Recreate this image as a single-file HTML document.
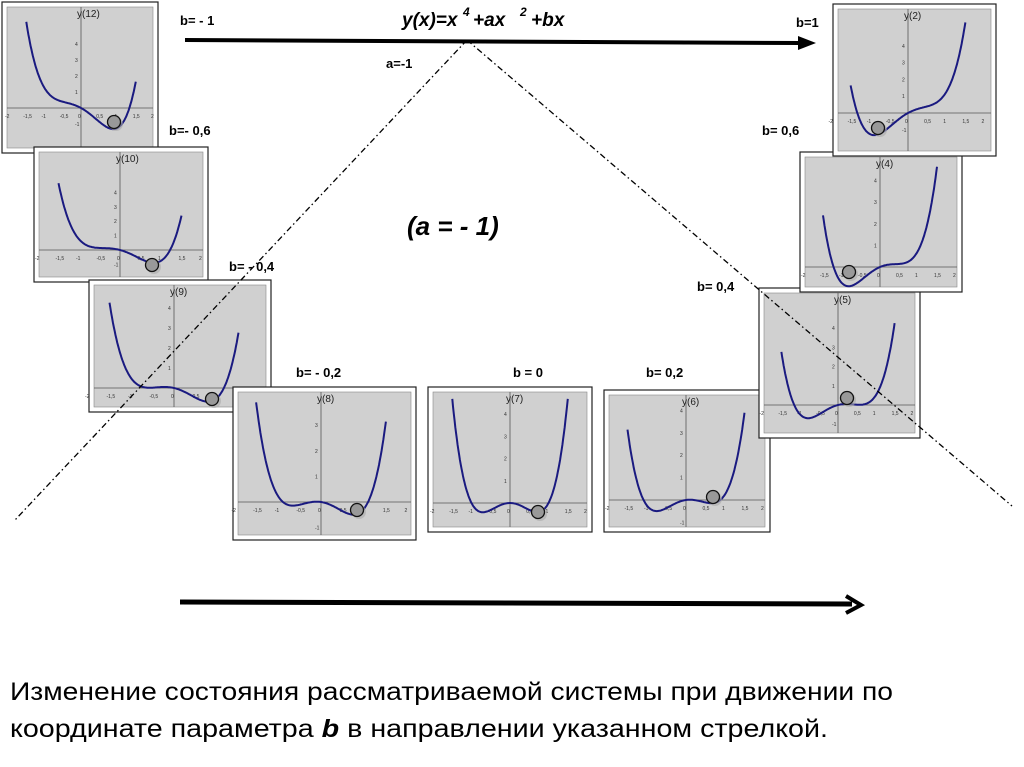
<!DOCTYPE html>
<html><head><meta charset="utf-8">
<style>
html,body{margin:0;padding:0;background:#fff;}
svg{display:block;}
text{font-family:"Liberation Sans",Arial,sans-serif;}
</style></head>
<body>
<svg id="s" width="1024" height="767" viewBox="0 0 1024 767" xmlns="http://www.w3.org/2000/svg">
<rect width="1024" height="767" fill="#fff"/>
<g id="panels"></g>
<line x1="467" y1="40" x2="15" y2="520" stroke="#000" stroke-width="1.3" stroke-dasharray="6,3,1.5,3"/>
<line x1="467" y1="40" x2="1012" y2="506" stroke="#000" stroke-width="1.3" stroke-dasharray="6,3,1.5,3"/>
<line x1="185" y1="40" x2="800" y2="43" stroke="#000" stroke-width="4"/>
<polygon points="798,36 816,43 798,50" fill="#000"/>
<line x1="180" y1="602" x2="852" y2="604" stroke="#000" stroke-width="5"/>
<polyline points="846,596 861,605 846,613" fill="none" stroke="#000" stroke-width="4"/>
<text x="402" y="26" font-size="19" font-weight="bold" font-style="italic">y(x)=x</text>
<text x="463" y="16" font-size="12" font-weight="bold" font-style="italic">4</text>
<text x="473" y="26" font-size="19" font-weight="bold" font-style="italic">+ax</text>
<text x="520" y="16" font-size="12" font-weight="bold" font-style="italic">2</text>
<text x="531" y="26" font-size="19" font-weight="bold" font-style="italic">+bx</text>
<text x="386" y="68" font-size="13" font-weight="bold">a=-1</text>
<text x="407" y="235" font-size="26" font-style="italic" font-weight="bold">(a = - 1)</text>
<g font-size="13" font-weight="bold">
<text x="180" y="25">b= - 1</text>
<text x="796" y="27">b=1</text>
<text x="169" y="135">b=- 0,6</text>
<text x="762" y="135">b= 0,6</text>
<text x="229" y="271">b= - 0,4</text>
<text x="697" y="291">b= 0,4</text>
<text x="296" y="377">b= - 0,2</text>
<text x="513" y="377">b = 0</text>
<text x="646" y="377">b= 0,2</text>
</g>
<text x="10" y="700" font-size="25" textLength="883" lengthAdjust="spacingAndGlyphs">Изменение состояния рассматриваемой системы при движении по</text>
<text x="10" y="737" font-size="25" textLength="818" lengthAdjust="spacingAndGlyphs">координате  параметра <tspan font-weight="bold" font-style="italic">b</tspan> в направлении указанном стрелкой.</text>
</svg>
<script>
(function(){
var P=[
 [2,2,156,151,81,108,-1,"y(12)",114,122,20],
 [34,147,174,135,120,250,-0.6,"y(10)",152,265,18],
 [89,280,182,132,174,388,-0.4,"y(9)",212,399,25],
 [233,387,183,153,321,502,-0.2,"y(8)",357,510,32],
 [428,387,164,145,510,503,0,"y(7)",538,512,37],
 [604,390,166,142,686,500,0.2,"y(6)",713,497,28],
 [759,288,161,150,838,405,0.4,"y(5)",847,398,24],
 [800,152,162,140,880,267,0.6,"y(4)",849,272,27],
 [833,4,163,152,908,113,1,"y(2)",878,128,21]
];
var g=document.getElementById('panels'),h="";
P.forEach(function(p){
 var x=p[0],y=p[1],w=p[2],ht=p[3],ax=p[4],ay=p[5],b=p[6];
 var ix=x+5,iy=y+5,iw=w-10,ih=ht-10;
 var sx=iw/4, sy=p[10];
 h+='<rect x="'+x+'" y="'+y+'" width="'+w+'" height="'+ht+'" fill="#fff" stroke="#222" stroke-width="1.2"/>';
 h+='<rect x="'+ix+'" y="'+iy+'" width="'+iw+'" height="'+ih+'" fill="#d0d0d0" stroke="#888" stroke-width="0.6"/>';
 h+='<line x1="'+ix+'" y1="'+ay+'" x2="'+(ix+iw)+'" y2="'+ay+'" stroke="#555" stroke-width="0.8"/>';
 h+='<line x1="'+ax+'" y1="'+iy+'" x2="'+ax+'" y2="'+(iy+ih)+'" stroke="#555" stroke-width="0.8"/>';
 var ticks=["-2","-1,5","-1","-0,5","0","0,5","1","1,5","2"];
 for(var i=0;i<9;i++){var tx=ax+(i-4)*0.5*sx;h+='<text x="'+(tx-3)+'" y="'+(ay+10)+'" font-size="5" fill="#333">'+ticks[i]+'</text>';}
 for(var k=-1;k<=4;k++){if(k==0)continue;var ty=ay-k*sy*0.5*((ay-iy)/sy>3?1.6:1.2);if(ty<iy+8||ty>iy+ih-2)continue;h+='<text x="'+(ax-6)+'" y="'+(ty+2)+'" font-size="5" fill="#333">'+k+'</text>';}
 h+='<text x="'+(ax-4)+'" y="'+(iy+10)+'" font-size="10" fill="#222">'+p[7]+'</text>';
 var pts=[];
 for(var t=-1.5;t<=1.5001;t+=0.02){var v=Math.pow(t,4)-t*t+b*t;var py=ay-v*sy;if(py<iy+3)continue;pts.push((ax+t*sx).toFixed(1)+','+py.toFixed(1));}
 h+='<polyline points="'+pts.join(' ')+'" fill="none" stroke="#1a1a80" stroke-width="2"/>';
 h+='<circle cx="'+(p[8]+2)+'" cy="'+(p[9]+2)+'" r="7" fill="#aaa" opacity="0.6"/>';
 h+='<circle cx="'+p[8]+'" cy="'+p[9]+'" r="6.5" fill="#999" stroke="#111" stroke-width="1.3"/>';
});
g.innerHTML=h;
})();
</script>
</body></html>
